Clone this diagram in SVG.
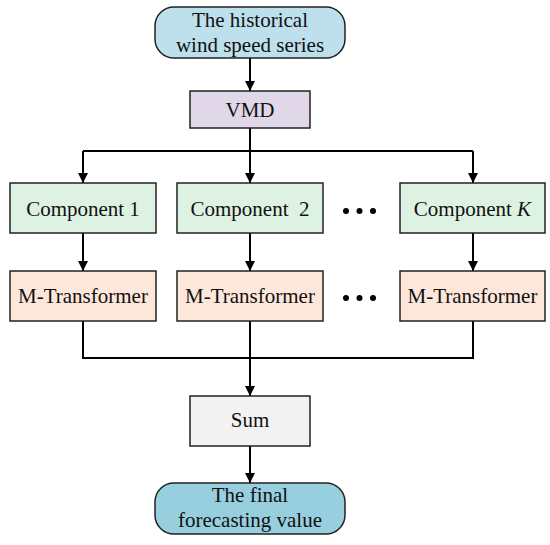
<svg xmlns="http://www.w3.org/2000/svg" width="550" height="545" viewBox="0 0 550 545">
<defs>
<marker id="ah" viewBox="0 0 10 10" refX="10" refY="5" markerWidth="5" markerHeight="5" orient="auto" markerUnits="strokeWidth">
<path d="M0,0 L10,5 L0,10 Z" fill="#000"/>
</marker>
<style>
.box{stroke:#222;stroke-width:1.5}
.t{font-family:"Liberation Serif","Times New Roman",serif;font-size:21px;fill:#111;text-anchor:middle;white-space:pre}
.c{stroke:#000;stroke-width:2;fill:none}
.a{marker-end:url(#ah)}
.term{fill:#bde0ec}
.term2{fill:#97cfdf}
.vmd{fill:#e0d7e9}
.comp{fill:#def2e3}
.mt{fill:#fde6da}
.sum{fill:#f2f2f2}
</style>
</defs>
<rect width="550" height="545" fill="#fff"/>
<g id="connectors">
<path class="c a" d="M250,58 V91"/>
<path class="c" d="M250,128 V151 M83,151 H473"/>
<path class="c a" d="M83,151 V183"/>
<path class="c a" d="M250,151 V183"/>
<path class="c a" d="M473,151 V183"/>
<path class="c a" d="M83,233 V271"/>
<path class="c a" d="M250,233 V271"/>
<path class="c a" d="M473,233 V271"/>
<path class="c" d="M83,321 V358 H473 V321 M250,321 V358"/>
<path class="c a" d="M250,358 V396"/>
<path class="c a" d="M250,446 V483"/>
</g>
<g id="start">
<rect class="box term" x="155" y="7" width="190" height="51" rx="19"/>
<text class="t" x="250" y="27">The historical</text>
<text class="t" x="250" y="52">wind speed series</text>
</g>
<g id="vmd">
<rect class="box vmd" x="190" y="91" width="120" height="37"/>
<text class="t" x="250" y="117">VMD</text>
</g>
<g id="comp1">
<rect class="box comp" x="10" y="183" width="146" height="50"/>
<text class="t" x="83" y="216">Component 1</text>
</g>
<g id="comp2">
<rect class="box comp" x="177" y="183" width="146" height="50"/>
<text class="t" x="250" y="216">Component  2</text>
</g>
<g id="compK">
<rect class="box comp" x="400" y="183" width="145" height="50"/>
<text class="t" x="472.5" y="216">Component <tspan font-style="italic">K</tspan></text>
</g>
<g id="dots1">
<circle cx="346" cy="211" r="3"/>
<circle cx="359.5" cy="211" r="3"/>
<circle cx="373" cy="211" r="3"/>
</g>
<g id="mt1">
<rect class="box mt" x="10" y="271" width="146" height="50"/>
<text class="t" x="83" y="303">M-Transformer</text>
</g>
<g id="mt2">
<rect class="box mt" x="177" y="271" width="146" height="50"/>
<text class="t" x="250" y="303">M-Transformer</text>
</g>
<g id="mtK">
<rect class="box mt" x="400" y="271" width="145" height="50"/>
<text class="t" x="472.5" y="303">M-Transformer</text>
</g>
<g id="dots2">
<circle cx="346" cy="298" r="3"/>
<circle cx="359.5" cy="298" r="3"/>
<circle cx="373" cy="298" r="3"/>
</g>
<g id="sum">
<rect class="box sum" x="190" y="396" width="120" height="50"/>
<text class="t" x="250" y="427">Sum</text>
</g>
<g id="end">
<rect class="box term2" x="155" y="483" width="190" height="51" rx="19"/>
<text class="t" x="250" y="502">The final</text>
<text class="t" x="250" y="527">forecasting value</text>
</g>
</svg>
